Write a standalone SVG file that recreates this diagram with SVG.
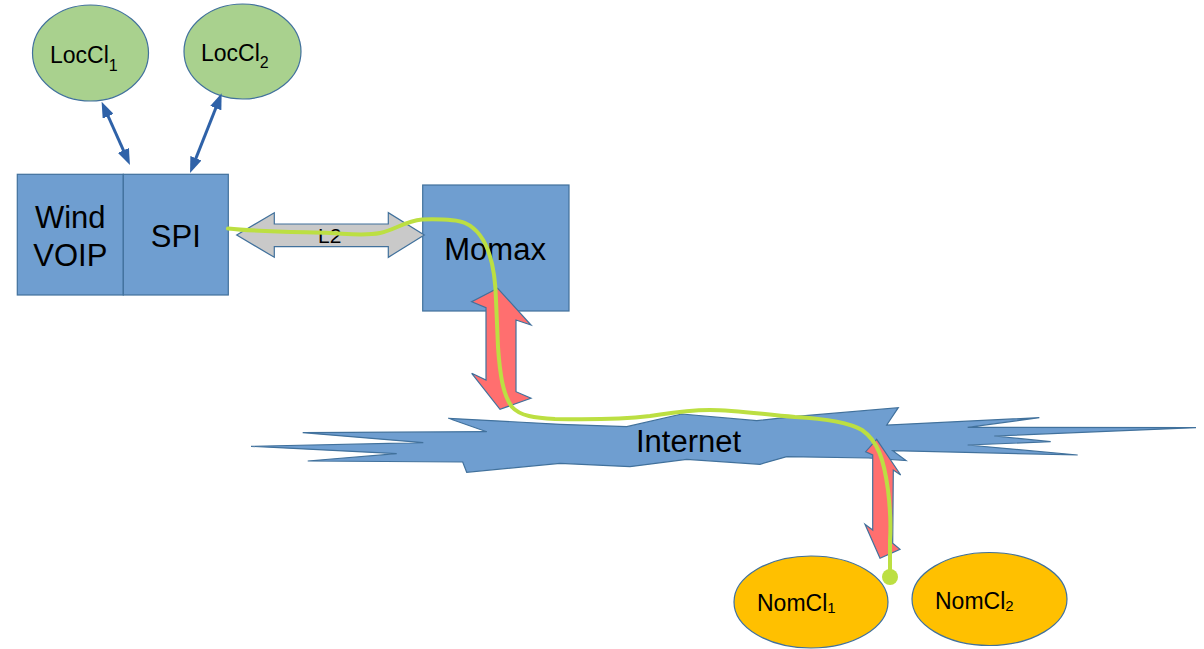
<svg xmlns="http://www.w3.org/2000/svg" width="1204" height="649" viewBox="0 0 1204 649">
  <defs>
    <style>
      text { font-family: "Liberation Sans", Arial, sans-serif; fill: #000; }
      .big { font-size: 31px; }
      .mid { font-size: 23px; }
      .box { fill: #6F9ED0; stroke: #41719C; stroke-width: 1.2; }
      .loc { fill: #A9D18E; stroke: #41719C; stroke-width: 1.2; }
      .nom { fill: #FFC000; stroke: #41719C; stroke-width: 1.2; }
      .red { fill: #FF6F6F; stroke: #41719C; stroke-width: 1.2; stroke-linejoin: miter; }
      .gray { fill: #C9C9C9; stroke: #41719C; stroke-width: 1.2; }
      .blue-link { stroke: #2F62A8; stroke-width: 3; fill: none; marker-start: url(#ah); marker-end: url(#ah); }
      .path { stroke: #BCDF42; stroke-width: 4; fill: none; stroke-linecap: round; stroke-linejoin: round; }
    </style>
    <marker id="ah" markerUnits="userSpaceOnUse" markerWidth="16" markerHeight="12" refX="8" refY="6" orient="auto-start-reverse">
      <path d="M0,0 L16,6 L0,12 z" fill="#2F62A8"/>
    </marker>
  </defs>

  <g id="LocCl1">
    <ellipse class="loc" cx="90.5" cy="53" rx="58" ry="48"/>
    <text class="mid" x="50" y="63">LocCl<tspan font-size="16" dy="8">1</tspan></text>
  </g>
  <g id="LocCl2">
    <ellipse class="loc" cx="242.5" cy="51.5" rx="58.5" ry="47.5"/>
    <text class="mid" x="201" y="61">LocCl<tspan font-size="16" dy="7">2</tspan></text>
  </g>

  <g id="WindVOIP">
    <rect class="box" x="17.3" y="174.3" width="106" height="120.7"/>
    <text class="big" x="70.3" y="227.7" text-anchor="middle">Wind</text>
    <text class="big" x="70.3" y="265.7" text-anchor="middle">VOIP</text>
  </g>
  <g id="SPI">
    <rect class="box" x="123.3" y="174.3" width="105" height="120.7"/>
    <text class="big" x="175.8" y="246.7" text-anchor="middle">SPI</text>
  </g>

  <g id="Momax">
    <rect class="box" x="422.7" y="185" width="146.3" height="126"/>
    <text class="big" x="444.3" y="260">Momax</text>
  </g>

  <g id="Internet">
    <polygon class="box" points="251,446.3 423.3,442.7 302.7,432.7 486.7,431.7 448.3,418.3 560,424.3 626.7,426.7 681.7,414 756.7,420.7 793.3,416.7 898.3,407.7 886.7,425 1039.3,417.7 967.7,427.3 1196,427.7 994.3,436 1050.7,441.7 967.7,445 1077.7,455 892.7,450.7 906,460.5 868.6,458 786.7,456.7 760,464.3 686.7,459.3 630,466.7 560,463.3 466.7,472.3 462.7,462 307.7,461 396.7,453.7"/>
    <text class="big" x="636" y="452.3">Internet</text>
  </g>

  <g id="NomCl1">
    <ellipse class="nom" cx="811" cy="602" rx="77" ry="46"/>
    <text class="mid" x="757" y="611">NomCl<tspan font-size="15" dy="2">1</tspan></text>
  </g>
  <g id="NomCl2">
    <ellipse class="nom" cx="989.5" cy="599" rx="77.5" ry="46.5"/>
    <text class="mid" x="935" y="609">NomCl<tspan font-size="15" dy="2">2</tspan></text>
  </g>

  <g id="connectors">
    <line class="blue-link" x1="104.9" y1="109" x2="126.7" y2="157.7"/>
    <line class="blue-link" x1="218.7" y1="100.7" x2="193" y2="165.6"/>
    <g id="L2">
      <polygon class="gray" points="236.7,235 274.3,212.7 274.3,224 388.3,224 388.3,212.7 424.3,235 388.3,257.3 388.3,246.7 274.3,246.7 274.3,257.3"/>
      <text x="318" y="243" font-size="21">L2</text>
    </g>
    <polygon class="red" points="497.7,288.3 531,325 516,320 516,391.7 531,398.3 500,409.3 471.7,373.3 486,380 486,307.7 471.7,301.7"/>
    <polygon class="red" points="876.7,439.3 900.7,475 893.3,470 892.7,543.3 900,549.3 880,558.3 865,524.3 872.7,530 872.7,455 865.7,451.7"/>
    <path class="path" d="M228,228.5 C260,232 300,232 330,233 C350,234 365,236 380,233 C395,230 405,221 422,219.5 C440,219 455,219 465,223 C485,232 495,260 496,300 L498,347 C500,375 503,395 512,407 C520,416 535,418 555,419 C600,420 625,419 650,416 C670,413 685,410 710,410 C735,410 760,414 795,417 C830,419 850,423 862,430 C878,441 884,460 888,490 C891,515 891,525 890,540 L890,577"/>
    <circle cx="890" cy="577" r="8" fill="#BCDF42"/>
  </g>
</svg>
